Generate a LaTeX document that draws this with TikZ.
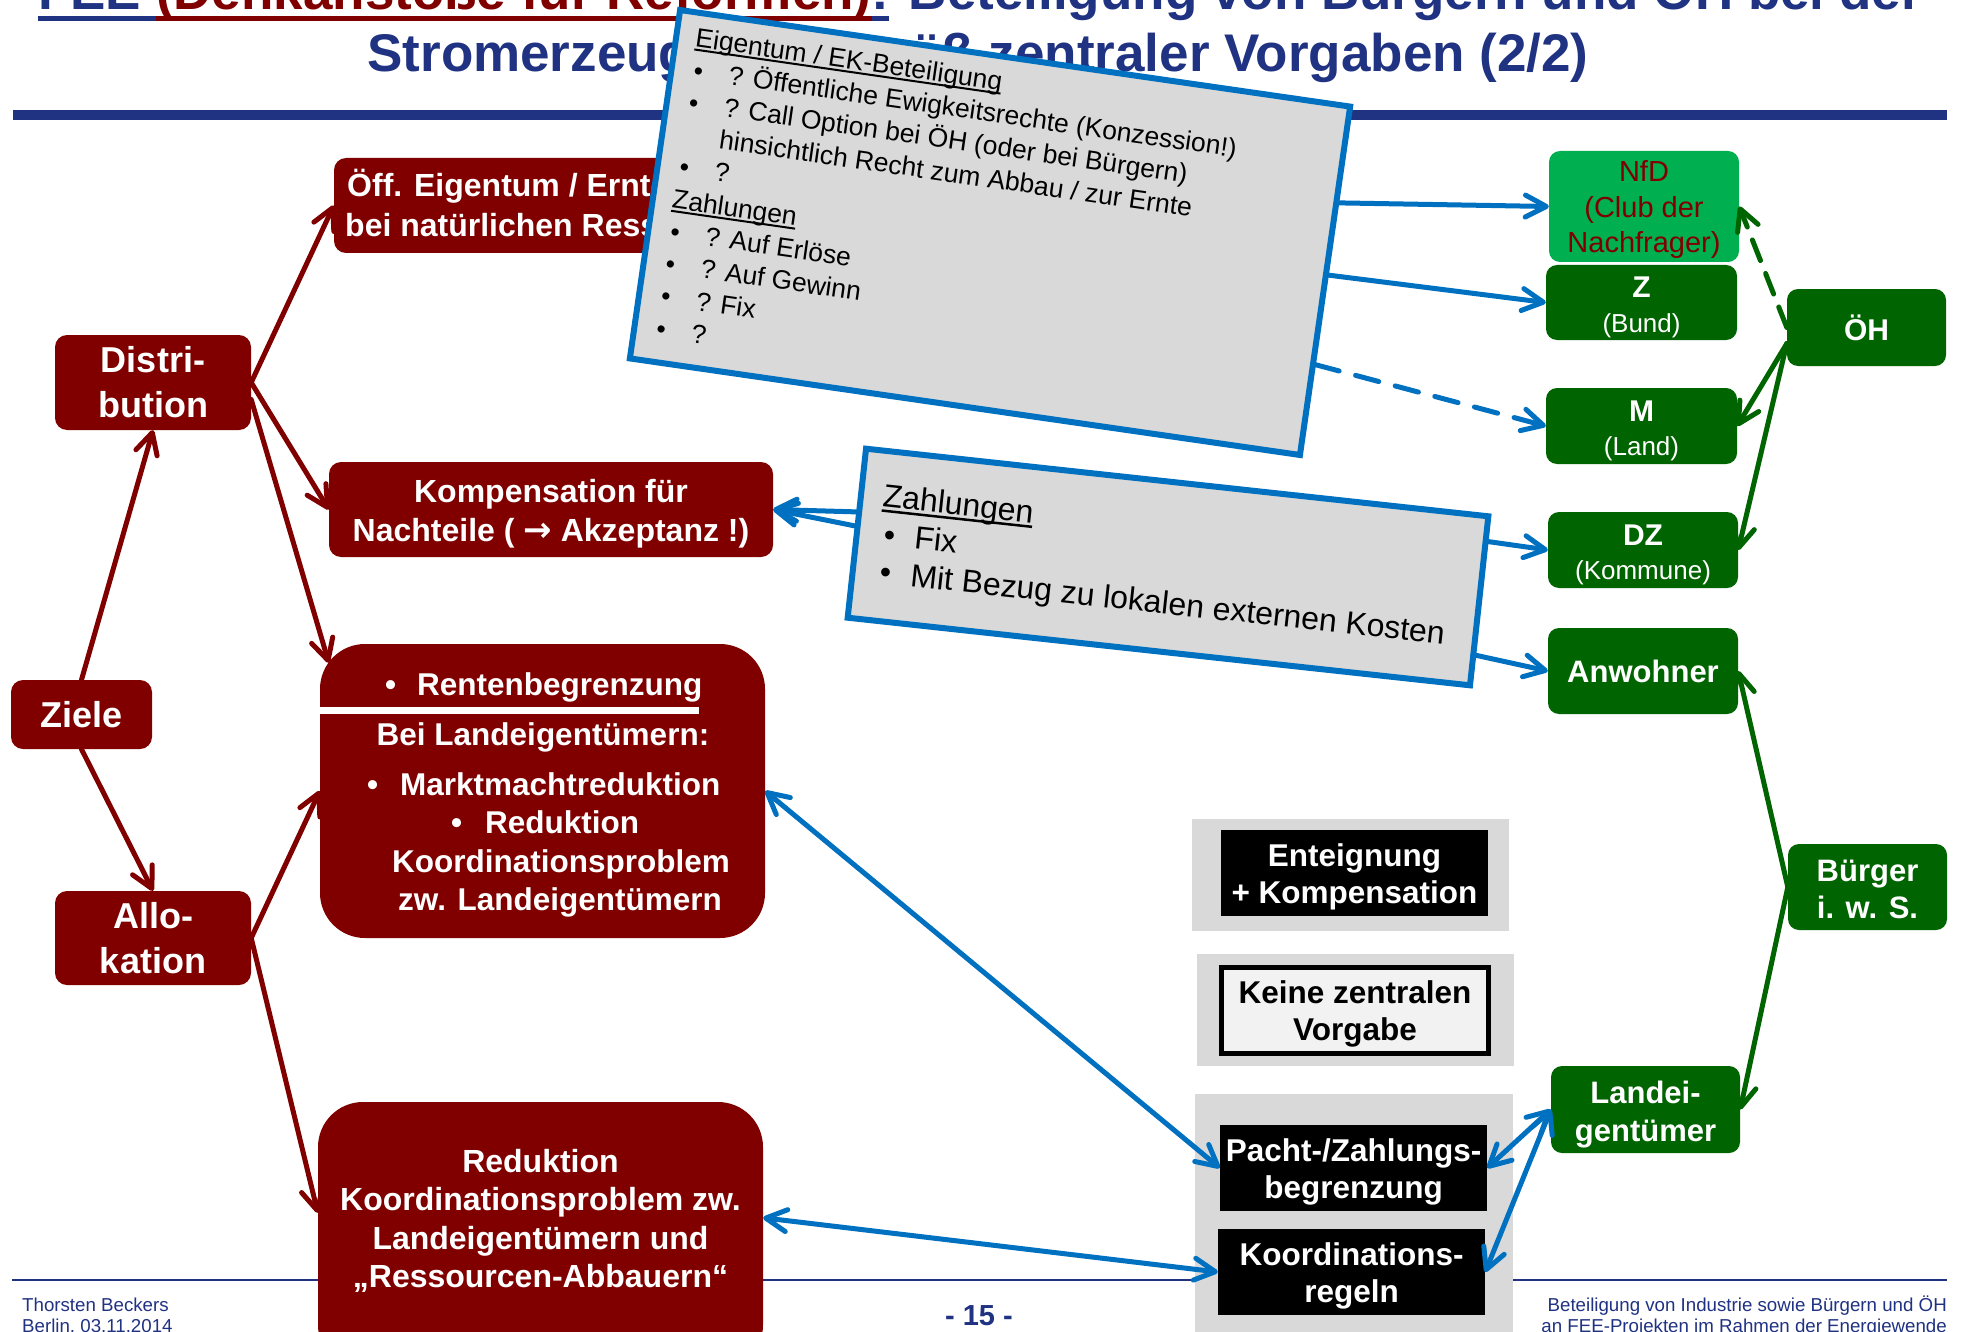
\documentclass[tikz,border=0pt]{standalone}
\usepackage{fontspec}
\setmainfont{Liberation Sans}
\newfontfamily\djv{DejaVu Sans}
\usetikzlibrary{arrows.meta,calc}
\definecolor{navy}{RGB}{32,50,130}
\definecolor{dred}{RGB}{128,0,0}
\definecolor{dgreen}{RGB}{0,100,0}
\definecolor{lgreen}{RGB}{0,176,80}
\definecolor{myblue}{RGB}{0,112,192}
\definecolor{lgray}{RGB}{217,217,217}
\definecolor{offwhite}{RGB}{242,242,242}
\newlength\ulwd
\newcommand\myul[3]{\leavevmode\settowidth\ulwd{#3}\rlap{\rule[-#1]{\ulwd}{#2}}#3}
\newcommand\bl{\leavevmode\hspace*{2.5pt}\makebox[35.5pt][l]{\textbullet}}
\newcommand\blb{\leavevmode\hspace*{5pt}\makebox[31pt][l]{\textbullet}}
\newcommand\st[1]{\rule{0pt}{#1}}
\tikzset{
  redbox/.style={fill=dred, rounded corners=12pt, text=white, align=center, inner sep=0pt, font=\bfseries\fontsize{32}{38.5}\selectfont},
  bigfont/.style={font=\bfseries\fontsize{36}{45}\selectfont},
  wtxt/.style={text=white, inner sep=0pt, font=\bfseries\fontsize{31.5}{38}\selectfont},
  grbox/.style={fill=dgreen, rounded corners=11pt, text=white, align=center, inner sep=0pt, minimum width=190pt},
  panel/.style={fill=lgray, inner sep=0pt},
  blkbox/.style={fill=black, text=white, align=center, inner sep=0pt, minimum width=267pt, minimum height=86pt, font=\bfseries\fontsize{31.5}{37}\selectfont},
  tiltbox/.style={draw=myblue, line width=6pt, fill=lgray, inner sep=0pt},
  arrone/.style={-{Straight Barb[round,length=21pt,width=22pt]}},
  arrtwo/.style={{Straight Barb[round,length=21pt,width=22pt]}-{Straight Barb[round,length=21pt,width=22pt]}},
  redarr/.style={draw=dred, line width=5pt, line cap=round, arrone},
  bluarr/.style={draw=myblue, line width=5pt, line cap=round, arrone},
  blutwo/.style={draw=myblue, line width=5pt, line cap=round, arrtwo},
  grarr/.style={draw=dgreen, line width=5pt, line cap=round, arrone},
  foot/.style={text=navy, inner sep=0pt, font=\fontsize{18.7}{21}\selectfont},
}
\begin{document}
\begin{tikzpicture}[x=1pt,y=-1pt]
\path[use as bounding box] (0,0) rectangle (1961,1332);
\clip (0,0) rectangle (1961,1332);
\fill[white] (0,0) rectangle (1961,1332);

% rules
\fill[navy] (13,110) rectangle (1947,120);
\fill[navy] (12,1279) rectangle (1947,1281);

% title
\node[anchor=base, inner sep=0pt, text=navy, font=\bfseries\fontsize{53}{60}\selectfont] (t1) at (980,10)
  {\myul{11pt}{5pt}{FEE }{\color{dred}\myul{11pt}{5pt}{(Denkanstöße für Reformen)}}\myul{11pt}{5pt}{:} Beteiligung von Bürgern und ÖH bei der};
\node[anchor=base, inner sep=0pt, text=navy, font=\bfseries\fontsize{53}{60}\selectfont] (t2) at (978,72)
  {Stromerzeugung gemäß zentraler Vorgaben (2/2)};

% footer
\node[foot, anchor=base west] (f1) at (22,1311) {Thorsten Beckers};
\node[foot, anchor=base west] (f2) at (22,1332) {Berlin, 03.11.2014};
\node[foot, anchor=base east] (f3) at (1947,1311) {Beteiligung von Industrie sowie Bürgern und ÖH};
\node[foot, anchor=base east] (f4) at (1947,1332) {an FEE-Projekten im Rahmen der Energiewende};
\node[anchor=base, inner sep=0pt, text=navy, font=\bfseries\fontsize{29}{33}\selectfont] (pg) at (979,1325) {- 15 -};

% left red nodes
\node[redbox, bigfont, minimum width=196pt, minimum height=95pt] (dist) at (153,382.5) {Distri-\\bution};
\node[redbox, bigfont, minimum width=141pt, minimum height=69pt] (ziele) at (81.5,714.5) {Ziele};
\node[redbox, bigfont, minimum width=196pt, minimum height=94pt] (allo) at (153,938) {Allo-\\kation};

\node[redbox, minimum width=456pt, minimum height=95pt] (oeff) at (562,205.5) {};
\node[wtxt, font=\bfseries\fontsize{32}{38}\selectfont, anchor=base west] (oefft1) at (347,197) {Öff. Eigentum / Ernte};
\node[wtxt, font=\bfseries\fontsize{32}{38}\selectfont, anchor=base west] (oefft2) at (345,237) {bei natürlichen Ressourcen};

\node[redbox, minimum width=444pt, minimum height=95pt] (komp) at (551,509.5) {\st{32pt}Kompensation für\\Nachteile ( {\djv\bfseries\fontsize{34}{38}\selectfont →} Akzeptanz !)};

\node[redbox, rounded corners=45pt, minimum width=445pt, minimum height=294pt] (rent) at (542.5,791) {};
\fill[white] (320,707) rectangle (699,714);
\node[wtxt, anchor=base west] (r1) at (385,695) {\makebox[32pt][l]{\textbullet}Rentenbegrenzung};
\node[wtxt, anchor=base] (r2) at (543,745) {Bei Landeigentümern:};
\node[wtxt, anchor=base west] (r3) at (367,795) {\makebox[33pt][l]{\textbullet}Marktmachtreduktion};
\node[wtxt, anchor=base west] (r4) at (451,833) {\makebox[34pt][l]{\textbullet}Reduktion};
\node[wtxt, anchor=base west] (r5) at (392,872) {Koordinationsproblem};
\node[wtxt, anchor=base west] (r6) at (398,910) {zw. Landeigentümern};

\node[redbox, rounded corners=45pt, minimum width=445pt, minimum height=268pt] (redu) at (540.5,1236) {};
\node[wtxt, font=\bfseries\fontsize{32}{38.5}\selectfont, anchor=base] (redt) at (540.5,1172)
  {\parbox[t]{445pt}{\centering Reduktion\\Koordinationsproblem zw.\\Landeigentümern und\\„Ressourcen-Abbauern“}};

% panels and black boxes
\node[panel, minimum width=317pt, minimum height=112pt] (p1) at (1350.5,875) {};
\node[blkbox] (ent) at (1354.5,873) {\st{31pt}Enteignung\\+ Kompensation};
\node[panel, minimum width=317pt, minimum height=112pt] (p2) at (1355.5,1010) {};
\node[blkbox, fill=offwhite, draw=black, line width=5pt, text=black] (keine) at (1355,1010.5) {\st{30pt}Keine zentralen\\Vorgabe};
\node[panel, minimum width=318pt, minimum height=266pt] (p3) at (1354,1227) {};
\node[blkbox] (pacht) at (1353.5,1168) {\st{30pt}Pacht-/Zahlungs-\\begrenzung};
\node[blkbox] (koord) at (1351.5,1272) {\st{30pt}Koordinations-\\regeln};

% right green nodes
\node[grbox, fill=lgreen, text=dred, minimum height=111pt, font=\fontsize{29}{35.5}\selectfont] (nfd) at (1644,206.5) {\st{28pt}NfD\\(Club der\\Nachfrager)};
\node[grbox, minimum width=191pt, minimum height=75pt, font=\fontsize{26}{35}\selectfont] (z) at (1641.5,302.5) {\st{31pt}{\bfseries\fontsize{30}{35}\selectfont Z}\\(Bund)};
\node[grbox, minimum width=191pt, minimum height=76pt, font=\fontsize{26}{34}\selectfont] (m) at (1641.5,426) {\st{31pt}{\bfseries\fontsize{30}{34}\selectfont M}\\(Land)};
\node[grbox, minimum height=76pt, font=\fontsize{26}{34}\selectfont] (dz) at (1643,550) {\st{31pt}{\bfseries\fontsize{30}{34}\selectfont DZ}\\(Kommune)};
\node[grbox, minimum width=159pt, minimum height=77pt, font=\bfseries\fontsize{30}{36}\selectfont] (oeh) at (1866.5,327.5) {ÖH};
\node[grbox, minimum height=86pt, font=\bfseries\fontsize{31}{37.5}\selectfont] (anw) at (1643,671) {Anwohner};
\node[grbox, minimum width=159pt, minimum height=86pt, font=\bfseries\fontsize{31}{37.5}\selectfont] (bur) at (1867.5,887) {\st{26pt}Bürger\\i. w. S.};
\node[grbox, minimum width=189pt, minimum height=87pt, font=\bfseries\fontsize{31}{38}\selectfont] (land) at (1645.5,1109.5) {\st{32pt}Landei-\\gentümer};

% tilted box 1
\begin{scope}[shift={(990,232.5)}, rotate=-8.2, transform shape]
  \node[tiltbox, minimum width=677pt, minimum height=352pt] (b1) at (0,0) {};
  \node[anchor=base west, inner sep=0pt, font=\fontsize{26.5}{32.6}\selectfont] (b1t) at (-319,-142)
  {\parbox[t]{640pt}{\raggedright \myul{4pt}{2pt}{Eigentum / EK-Beteiligung}\\
   \bl ? Öffentliche Ewigkeitsrechte (Konzession!)\\
   \bl ? Call Option bei ÖH (oder bei Bürgern)\\
   \hspace*{38pt}hinsichtlich Recht zum Abbau / zur Ernte\\
   \bl ?\\
   \myul{4pt}{2pt}{Zahlungen}\\
   \bl ? Auf Erlöse\\
   \bl ? Auf Gewinn\\
   \bl ? Fix\\
   \bl ?}};
\end{scope}

% tilted box 2
\begin{scope}[shift={(1168,567)}, rotate=-6.2, transform shape]
  \node[tiltbox, minimum width=626pt, minimum height=170pt] (b2) at (0,0) {};
  \node[anchor=base west, inner sep=0pt, font=\fontsize{32}{38}\selectfont] (b2t) at (-291,-29)
  {\parbox[t]{600pt}{\raggedright \myul{5pt}{2.5pt}{Zahlungen}\\
   \blb Fix\\
   \blb Mit Bezug zu lokalen externen Kosten}};
\end{scope}

% red connectors
\draw[redarr] (ziele.north) -- (dist.south);
\draw[redarr] (ziele.south) -- (allo.north);
\draw[redarr] (dist.east) -- (oeff.west);
\draw[redarr] (dist.east) -- (komp.west);
\draw[redarr] ($(dist.east)+(0,17)$) -- ($(rent.north west)+(9,19)$);
\draw[redarr] (allo.east) -- (rent.west);
\draw[redarr] (allo.east) -- ($(redu.north west)+(0,111)$);

% blue connectors
\coordinate (s1) at ($(b1.north east)!0.279!(b1.south east)$);
\coordinate (s2) at ($(b1.north east)!0.483!(b1.south east)$);
\coordinate (s3) at ($(b1.north east)!0.736!(b1.south east)$);
\coordinate (s4) at ($(b2.north east)!0.16!(b2.south east)$);
\coordinate (s5) at ($(b2.north east)!0.81!(b2.south east)$);
\coordinate (s6) at ($(b2.north west)!0.38!(b2.south west)$);
\coordinate (s7) at ($(b2.north west)!0.46!(b2.south west)$);
\draw[bluarr] (s1) -- (nfd.west);
\draw[bluarr] (s2) -- (z.west);
\draw[bluarr, dash pattern=on 24pt off 17pt] (s3) -- (m.west);
\draw[bluarr] (s4) -- (dz.west);
\draw[bluarr] (s5) -- (anw.west);
\draw[bluarr] (s6) -- (komp.east);
\draw[bluarr] (s7) -- (komp.east);
\draw[blutwo] (rent.east) -- (pacht.west);
\draw[blutwo] ($(redu.north east)+(0,116)$) -- (koord.west);
\draw[blutwo] (pacht.east) -- (land.west);
\draw[blutwo] (koord.east) -- (land.west);

% green connectors
\draw[grarr, dash pattern=on 22pt off 14pt] (oeh.west) -- (nfd.east);
\draw[grarr] ($(oeh.west)+(0,16)$) -- (m.east);
\draw[grarr] ($(oeh.west)+(0,16)$) -- (dz.east);
\draw[grarr] (bur.west) -- (anw.east);
\draw[grarr] (bur.west) -- (land.east);
\end{tikzpicture}
\end{document}
